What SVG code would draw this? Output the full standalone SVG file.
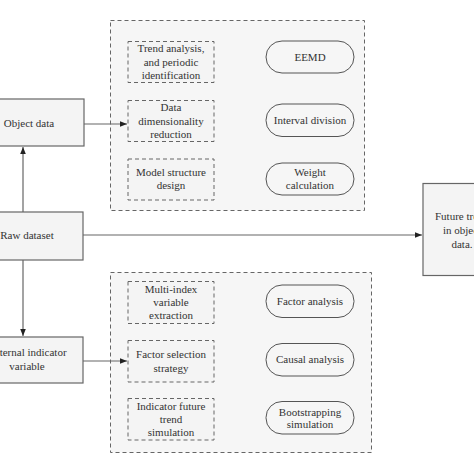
<svg xmlns="http://www.w3.org/2000/svg" width="474" height="474" viewBox="0 0 474 474">
<defs>
<style>
.box{fill:#f4f4f4;stroke:#666;stroke-width:1.2}
.grp{fill:#f6f6f6;stroke:#666;stroke-width:1;stroke-dasharray:4 3}
.inner{fill:#f4f4f4;stroke:#666;stroke-width:1;stroke-dasharray:4 3}
.pill{fill:#f6f6f6;stroke:#555;stroke-width:1}
.ln{stroke:#666;stroke-width:1.2;fill:none}
text{font-family:"Liberation Serif","Times New Roman",serif;font-size:11px;fill:#333;text-anchor:middle}
</style>
<marker id="ah" viewBox="0 0 10 10" refX="10" refY="5" markerWidth="7" markerHeight="7" orient="auto" markerUnits="userSpaceOnUse">
<path d="M0,1 L10,5 L0,9 Z" fill="#222"/>
</marker>
</defs>
<rect width="474" height="474" fill="#fff"/>
<g id="group-top">
<rect class="grp" x="110.5" y="20.5" width="254" height="190"/>
</g>
<g id="group-bottom">
<rect class="grp" x="110.5" y="272.5" width="261" height="180"/>
</g>
<g id="connectors">
<line class="ln" x1="23" y1="212" x2="23" y2="147" marker-end="url(#ah)"/>
<line class="ln" x1="23" y1="260" x2="23" y2="336" marker-end="url(#ah)"/>
<line class="ln" x1="84" y1="124" x2="127" y2="124" marker-end="url(#ah)"/>
<line class="ln" x1="83" y1="361" x2="127" y2="361" marker-end="url(#ah)"/>
<line class="ln" x1="83" y1="235" x2="422" y2="235" marker-end="url(#ah)"/>
</g>
<g id="object-data">
<rect class="box" x="-25" y="99" width="109" height="47"/>
<text x="29" y="126.5">Object data</text>
</g>
<g id="raw-dataset">
<rect class="box" x="-28" y="212" width="111" height="48"/>
<text x="27" y="239">Raw dataset</text>
</g>
<g id="external-indicator">
<rect class="box" x="-28" y="337" width="111" height="46"/>
<text x="27" y="356">External indicator</text>
<text x="27" y="369.5">variable</text>
</g>
<g id="future-trend">
<rect class="box" x="423" y="183.5" width="90" height="92"/>
<text x="462" y="219.5">Future trend</text>
<text x="462" y="233.5">in object</text>
<text x="462" y="247.5">data.</text>
</g>
<g id="trend-analysis">
<rect class="inner" x="128" y="41.5" width="86" height="41"/>
<text x="171" y="52">Trend analysis,</text>
<text x="171" y="65.5">and periodic</text>
<text x="171" y="79">identification</text>
</g>
<g id="data-dim">
<rect class="inner" x="128" y="100.5" width="86" height="41"/>
<text x="171" y="111">Data</text>
<text x="171" y="124.5">dimensionality</text>
<text x="171" y="138">reduction</text>
</g>
<g id="model-structure">
<rect class="inner" x="128" y="159" width="86" height="41"/>
<text x="171" y="175.5">Model structure</text>
<text x="171" y="189">design</text>
</g>
<g id="eemd">
<rect class="pill" x="266" y="41" width="88" height="32" rx="16"/>
<text x="310" y="60.5">EEMD</text>
</g>
<g id="interval-division">
<rect class="pill" x="266" y="104" width="88" height="32.5" rx="16"/>
<text x="310" y="124">Interval division</text>
</g>
<g id="weight-calc">
<rect class="pill" x="266" y="163" width="88" height="32" rx="16"/>
<text x="310" y="176">Weight</text>
<text x="310" y="188.5">calculation</text>
</g>
<g id="multi-index">
<rect class="inner" x="128" y="281.5" width="86" height="42"/>
<text x="171" y="293">Multi-index</text>
<text x="171" y="306">variable</text>
<text x="171" y="319">extraction</text>
</g>
<g id="factor-selection">
<rect class="inner" x="128" y="340.5" width="86" height="41.5"/>
<text x="171" y="358">Factor selection</text>
<text x="171" y="371.5">strategy</text>
</g>
<g id="indicator-future">
<rect class="inner" x="128" y="398.5" width="86" height="41.5"/>
<text x="171" y="409.5">Indicator future</text>
<text x="171" y="423">trend</text>
<text x="171" y="436">simulation</text>
</g>
<g id="factor-analysis">
<rect class="pill" x="266" y="285" width="88" height="32.5" rx="16"/>
<text x="310" y="304.5">Factor analysis</text>
</g>
<g id="causal-analysis">
<rect class="pill" x="266" y="343.5" width="88" height="32.5" rx="16"/>
<text x="310" y="363">Causal analysis</text>
</g>
<g id="bootstrapping">
<rect class="pill" x="266" y="401.5" width="88" height="32.5" rx="16"/>
<text x="310" y="415.5">Bootstrapping</text>
<text x="310" y="428">simulation</text>
</g>
</svg>
